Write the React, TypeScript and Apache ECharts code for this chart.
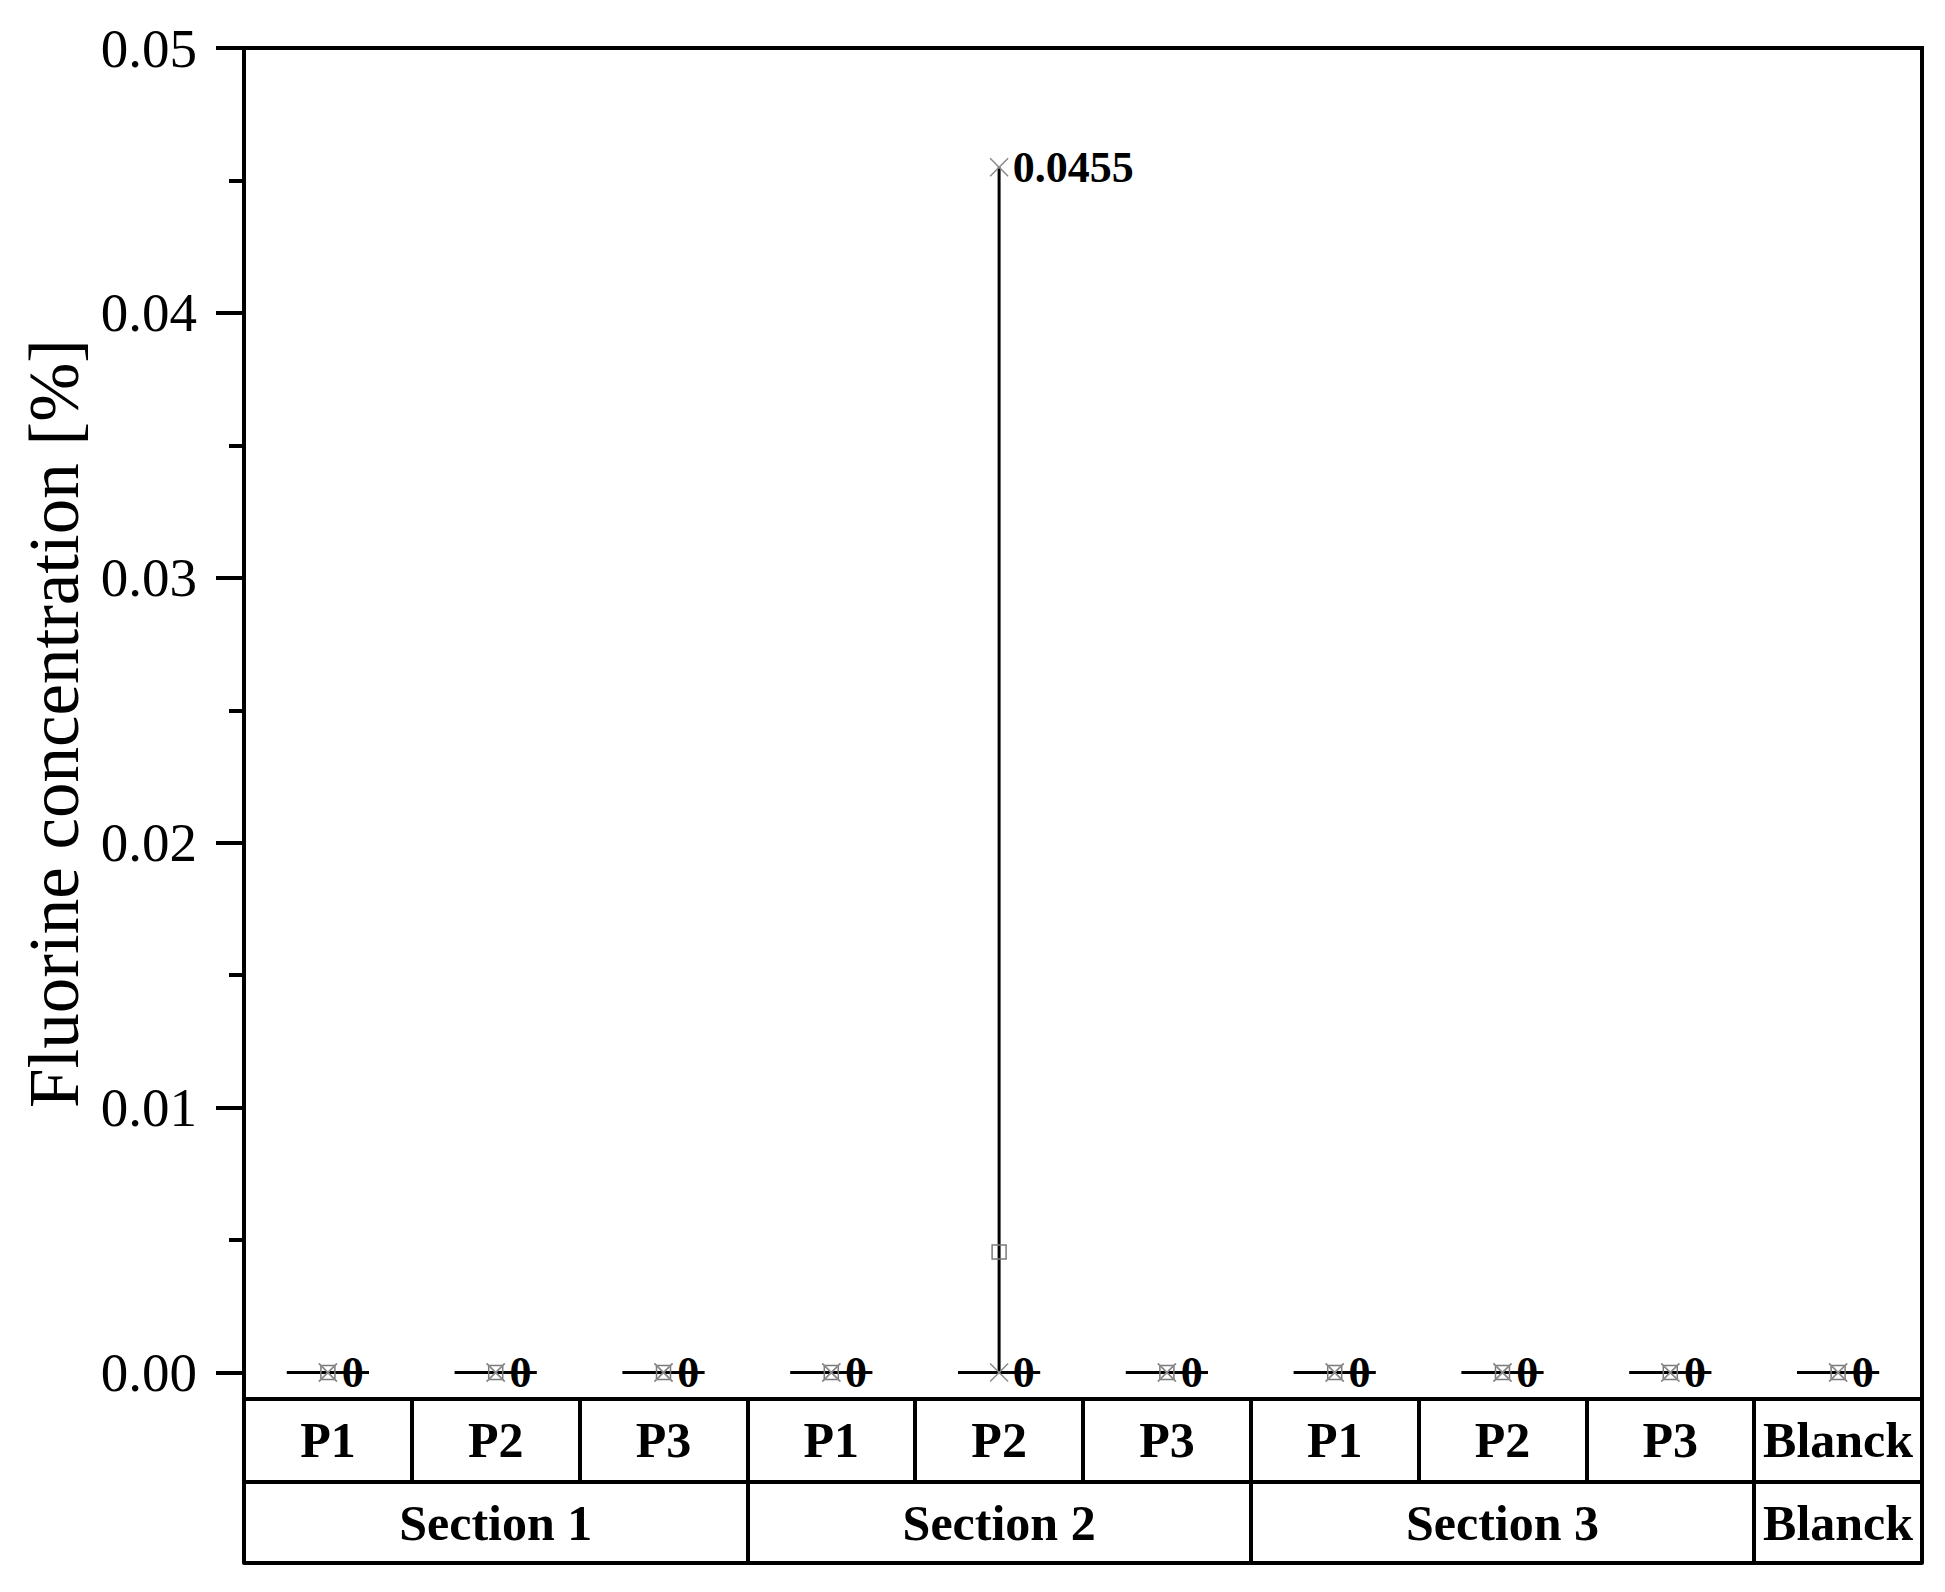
import React, { useEffect, useRef } from "react";
import * as echarts from "echarts";

const categories = ["P1", "P2", "P3", "P1", "P2", "P3", "P1", "P2", "P3", "Blanck"];
const sections = ["Section 1", "Section 2", "Section 3", "Blanck"];
const sectionSpans = [3, 3, 3, 1];

const minValues = [0, 0, 0, 0, 0, 0, 0, 0, 0, 0];
const q1Values = [0, 0, 0, 0, 0, 0, 0, 0, 0, 0];
const q3Values = [0, 0, 0, 0, 0, 0, 0, 0, 0, 0];
const maxValues = [0, 0, 0, 0, 0.0455, 0, 0, 0, 0, 0];
const meanValues = [0, 0, 0, 0, 0.00455, 0, 0, 0, 0, 0];

const yMajorTicks = [0, 0.01, 0.02, 0.03, 0.04, 0.05];
const yMinorTicks = [0.005, 0.015, 0.025, 0.035, 0.045];
const yMin = -0.001;
const yMax = 0.05;

const FONT = "'Liberation Serif', 'Times New Roman', serif";
const LINE_W = 4;

export default function App() {
  const ref = useRef<HTMLDivElement>(null);

  useEffect(() => {
    if (!ref.current) return;
    const chart = echarts.init(ref.current, null, { renderer: "svg" });

    const sectionLabels: string[] = new Array(categories.length).fill("");
    const sectionBoundaries: number[] = [0];
    let start = 0;
    sectionSpans.forEach((span, k) => {
      const mid = start + Math.floor((span - 1) / 2);
      sectionLabels[mid] = sections[k];
      start += span;
      sectionBoundaries.push(start);
    });

    const boxData = categories.map((_, i) => [i, minValues[i], q1Values[i], q3Values[i], maxValues[i]]);

    const boldLabel = {
      interval: 0,
      margin: 41,
      verticalAlign: "middle",
      fontFamily: FONT,
      fontWeight: "bold",
      fontSize: 50,
      color: "#000",
    };

    const valueLabel = {
      position: "right",
      distance: 4,
      fontFamily: FONT,
      fontWeight: "bold",
      fontSize: 44,
      color: "#000",
      formatter: (p: any) => String(p.value[1]),
    };

    const option: any = {
      animation: false,
      backgroundColor: "#ffffff",
      grid: {
        left: 244,
        right: 23,
        top: 48,
        bottom: 193,
        show: true,
        borderColor: "#000",
        borderWidth: LINE_W,
        backgroundColor: "transparent",
      },
      xAxis: [
        {
          type: "category",
          data: categories,
          position: "bottom",
          boundaryGap: true,
          axisLine: { show: true, onZero: false, lineStyle: { color: "#000", width: LINE_W } },
          axisTick: { show: true, inside: false, length: 83, interval: 0, lineStyle: { color: "#000", width: LINE_W } },
          axisLabel: boldLabel,
          splitLine: { show: false },
        },
        {
          type: "category",
          data: sectionLabels,
          position: "bottom",
          offset: 83,
          boundaryGap: true,
          axisLine: { show: true, onZero: false, lineStyle: { color: "#000", width: LINE_W } },
          axisTick: {
            show: true,
            inside: false,
            length: 81,
            interval: (i: number) => sectionBoundaries.indexOf(i) >= 0,
            lineStyle: { color: "#000", width: LINE_W },
          },
          axisLabel: boldLabel,
          splitLine: { show: false },
        },
        {
          type: "category",
          data: categories,
          position: "bottom",
          offset: 164,
          axisLine: { show: true, onZero: false, lineStyle: { color: "#000", width: LINE_W } },
          axisTick: { show: false },
          axisLabel: { show: false },
          splitLine: { show: false },
        },
      ],
      yAxis: [
        {
          type: "value",
          min: yMin,
          max: yMax,
          position: "left",
          name: "Fluorine concentration [%]",
          nameLocation: "middle",
          nameRotate: 90,
          nameGap: 155,
          nameTextStyle: { fontFamily: FONT, fontSize: 71, color: "#000" },
          axisLine: { show: true, onZero: false, lineStyle: { color: "#000", width: LINE_W } },
          axisTick: { show: true, inside: false, length: 28, customValues: yMajorTicks, lineStyle: { color: "#000", width: LINE_W } },
          axisLabel: {
            customValues: yMajorTicks,
            margin: 47,
            fontFamily: FONT,
            fontSize: 55,
            color: "#000",
            formatter: (v: number) => v.toFixed(2),
          },
          splitLine: { show: false },
        },
        {
          type: "value",
          min: yMin,
          max: yMax,
          position: "left",
          offset: 0,
          axisLine: { show: false, onZero: false },
          axisTick: { show: true, inside: false, length: 15, customValues: yMinorTicks, lineStyle: { color: "#000", width: LINE_W } },
          axisLabel: { show: false },
          splitLine: { show: false },
        },
      ],
      series: [
        {
          type: "custom",
          xAxisIndex: 0,
          yAxisIndex: 0,
          z: 2,
          data: boxData,
          renderItem: (params: any, api: any) => {
            const i = api.value(0);
            const pMin = api.coord([i, api.value(1)]);
            const pQ1 = api.coord([i, api.value(2)]);
            const pQ3 = api.coord([i, api.value(3)]);
            const pMax = api.coord([i, api.value(4)]);
            const band = api.size([1, 0])[0];
            const w = band * 0.49;
            const cx = pQ1[0];
            const st = { stroke: "#000", lineWidth: 3, fill: "none" };
            return {
              type: "group",
              children: [
                {
                  type: "polyline",
                  shape: { points: [[cx - w / 2, pQ3[1]], [cx + w / 2, pQ3[1]], [cx + w / 2, pQ1[1]], [cx - w / 2, pQ1[1]], [cx - w / 2, pQ3[1]]] },
                  style: st,
                },
                { type: "line", shape: { x1: cx, y1: pMin[1], x2: cx, y2: pQ1[1] }, style: st },
                { type: "line", shape: { x1: cx, y1: pQ3[1], x2: cx, y2: pMax[1] }, style: st },
              ],
            };
          },
        },
        {
          type: "scatter",
          name: "mean",
          z: 3,
          symbol: "rect",
          symbolSize: 14,
          itemStyle: { color: "transparent", borderColor: "#7a7a7a", borderWidth: 1.5, opacity: 1 },
          data: meanValues.map((v, i) => [i, v]),
        },
        {
          type: "scatter",
          name: "min",
          z: 4,
          symbol: "path://M0 0L10 10M10 0L0 10",
          symbolSize: 18,
          itemStyle: { color: "transparent", borderColor: "#8a8a8a", borderWidth: 1.5, opacity: 1 },
          label: { ...valueLabel, show: true },
          data: minValues.map((v, i) => [i, v]),
        },
        {
          type: "scatter",
          name: "max",
          z: 4,
          symbol: "path://M0 0L10 10M10 0L0 10",
          symbolSize: 18,
          itemStyle: { color: "transparent", borderColor: "#8a8a8a", borderWidth: 1.5, opacity: 1 },
          label: valueLabel,
          data: maxValues.map((v, i) => ({ value: [i, v], label: { show: v !== minValues[i] } })),
        },
      ],
    };

    chart.setOption(option);
    return () => chart.dispose();
  }, []);

  return (
    <div
      ref={ref}
      style={{ position: "absolute", left: 0, top: 0, width: 1945, height: 1592, background: "#fff" }}
    />
  );
}
